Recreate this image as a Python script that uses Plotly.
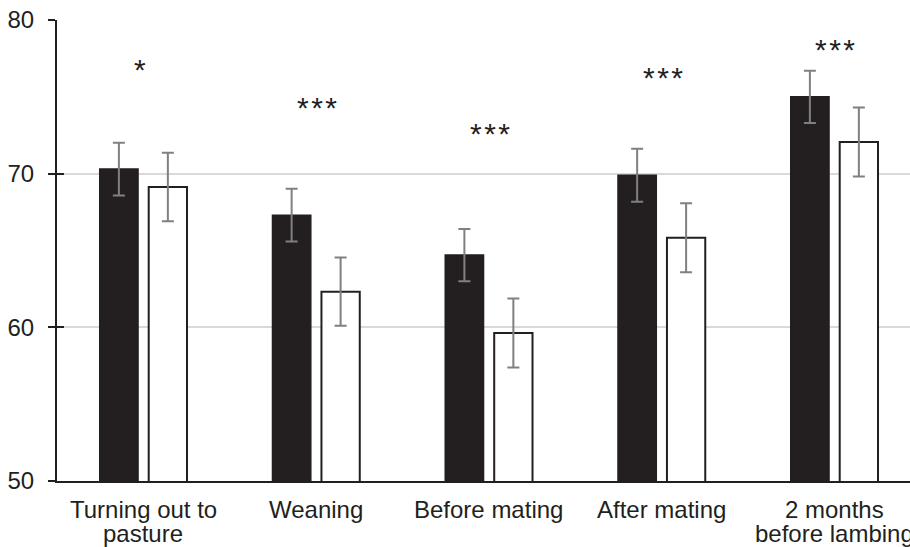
import plotly.graph_objects as go

categories = ["Turning out to<br>pasture", "Weaning", "Before mating", "After mating", "2 months<br>before lambing"]
black_values = [70.3, 67.3, 64.7, 69.9, 75.0]
black_errors = [1.72, 1.72, 1.70, 1.72, 1.70]
white_values = [69.13, 62.32, 59.63, 65.83, 72.06]
white_errors = [2.23, 2.22, 2.24, 2.24, 2.25]
star_labels = ["*", "***", "***", "***", "***"]
star_y = [76.8, 74.3, 72.6, 76.25, 78.1]

DARK = "#231f20"
GRID = "#d9d9d9"
ERR = "#808080"
FONT = "Liberation Sans, Arial, sans-serif"

fig = go.Figure()
fig.add_trace(go.Bar(
    x=categories, y=black_values, name="A",
    marker=dict(color=DARK, line=dict(color=DARK, width=1.5)),
    error_y=dict(type="data", array=black_errors, color=ERR, thickness=2, width=6),
))
fig.add_trace(go.Bar(
    x=categories, y=white_values, name="B",
    marker=dict(color="white", line=dict(color=DARK, width=2)),
    error_y=dict(type="data", array=white_errors, color=ERR, thickness=2, width=6),
))
# invisible trace so the second y axis (inner half of crossing ticks) is drawn
fig.add_trace(go.Scatter(x=[categories[0]], y=[50], yaxis="y2", mode="markers",
                         marker=dict(opacity=0), showlegend=False, hoverinfo="skip"))

for c, t, yv in zip(categories, star_labels, star_y):
    fig.add_annotation(x=c, y=yv, text="\u200a".join(t), showarrow=False, xref="x", yref="y",
                       xshift=-3 if len(t) == 1 else 1,
                       font=dict(family=FONT, size=30, color=DARK))

# category labels, one annotation per text line for exact line spacing
line_shifts = [-28, -52.5]
for c in categories:
    for i, line in enumerate(c.split("<br>")):
        fig.add_annotation(x=c, y=0, xref="x", yref="paper", text=line, showarrow=False,
                           yanchor="middle", yshift=line_shifts[i],
                           font=dict(family=FONT, size=24, color=DARK))

plot_left = 57
cat_w = 172.75
x_max = -0.5 + (910 - plot_left) / cat_w

fig.update_layout(
    width=910, height=547,
    margin=dict(l=plot_left, r=0, t=20, b=66),
    paper_bgcolor="white", plot_bgcolor="white",
    showlegend=False,
    barmode="group", bargap=0.433, bargroupgap=0.218,
    font=dict(family=FONT, size=24, color=DARK),
    xaxis=dict(
        range=[-0.5, x_max], showline=True, linecolor=DARK, linewidth=2,
        ticks="", showgrid=False, showticklabels=False,
        fixedrange=True,
    ),
    yaxis=dict(
        range=[50, 80], tickvals=[50, 60, 70, 80], showline=True, linecolor=DARK,
        linewidth=2, ticks="outside", ticklen=7, tickwidth=2, tickcolor=DARK,
        showgrid=True, gridcolor=GRID, gridwidth=2, zeroline=False,
        ticklabelstandoff=9,
        tickfont=dict(family=FONT, size=24, color=DARK),
    ),
    yaxis2=dict(
        range=[50, 80], tickvals=[50, 60, 70, 80], overlaying="y", side="left",
        anchor="x", ticks="inside", ticklen=7, tickwidth=2, tickcolor=DARK,
        showticklabels=False, showgrid=False, showline=False, zeroline=False,
    ),
)

fig.write_html("out.html")
